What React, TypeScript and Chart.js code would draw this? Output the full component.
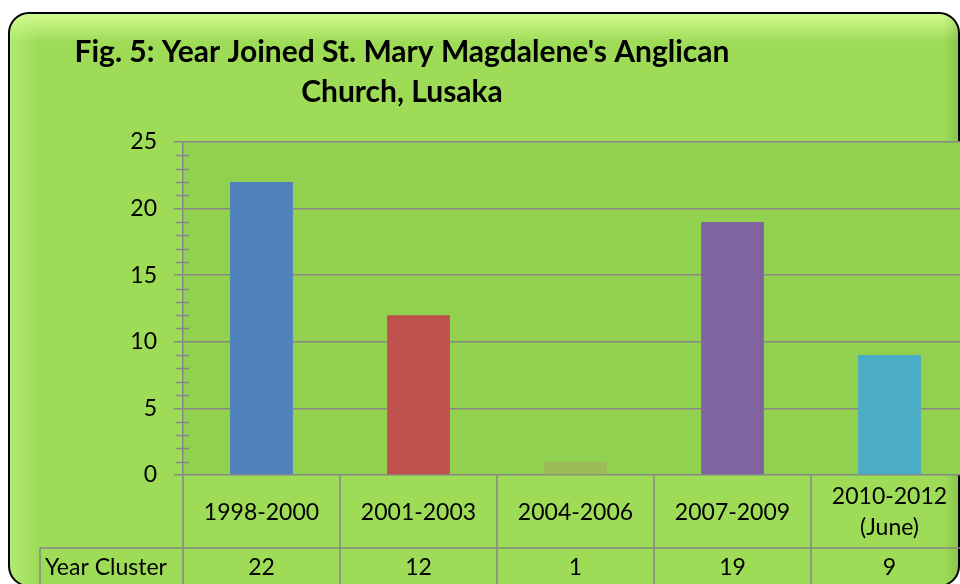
import React, { useEffect, useRef } from 'react';
import { Chart, registerables } from 'chart.js';

Chart.register(...registerables);

const titleLines = ["Fig. 5: Year Joined St. Mary Magdalene's Anglican", 'Church, Lusaka'];
const categories: (string | string[])[] = ['1998-2000', '2001-2003', '2004-2006', '2007-2009', ['2010-2012', '(June)']];
const values = [22, 12, 1, 19, 9];
const barColors = ['#4f81bd', '#c0504d', '#9bbb59', '#8064a2', '#4bacc6'];
const seriesName = 'Year Cluster';
const yMin = 0;
const yMax = 25;
const yStep = 5;
const yMinorStep = 1;

const FONT = 'Lato, "Open Sans", sans-serif';
const GRID = '#878787';
const OUTER = '#9edc58';
const PLOT = '#92d050';

function roundRect(ctx: CanvasRenderingContext2D, x: number, y: number, w: number, h: number, r: number) {
  ctx.beginPath();
  ctx.moveTo(x + r, y);
  ctx.lineTo(x + w - r, y);
  ctx.arcTo(x + w, y, x + w, y + r, r);
  ctx.lineTo(x + w, y + h - r);
  ctx.arcTo(x + w, y + h, x + w - r, y + h, r);
  ctx.lineTo(x + r, y + h);
  ctx.arcTo(x, y + h, x, y + h - r, r);
  ctx.lineTo(x, y + r);
  ctx.arcTo(x, y, x + r, y, r);
  ctx.closePath();
}

const framePlugin = {
  id: 'frame',
  beforeDraw(chart: any) {
    const { ctx, chartArea } = chart;
    const W = 951;
    const H = 574;
    ctx.save();
    roundRect(ctx, 1, 1, W - 1, H - 1, 20);
    ctx.fillStyle = OUTER;
    ctx.fill();
    ctx.save();
    ctx.clip();
    let g = ctx.createLinearGradient(0, 0, 0, 30);
    g.addColorStop(0, 'rgba(215,255,150,0.95)');
    g.addColorStop(1, 'rgba(215,255,150,0)');
    ctx.fillStyle = g;
    ctx.fillRect(0, 0, W, 30);
    g = ctx.createLinearGradient(0, 0, 30, 0);
    g.addColorStop(0, 'rgba(200,250,140,0.5)');
    g.addColorStop(1, 'rgba(200,250,140,0)');
    ctx.fillStyle = g;
    ctx.fillRect(0, 0, 30, H);
    g = ctx.createLinearGradient(W - 16, 0, W, 0);
    g.addColorStop(0, 'rgba(40,90,0,0)');
    g.addColorStop(1, 'rgba(40,90,0,0.18)');
    ctx.fillStyle = g;
    ctx.fillRect(W - 16, 0, 16, H);
    ctx.restore();
    roundRect(ctx, 1, 1, W - 1, H - 1, 20);
    ctx.lineWidth = 2;
    ctx.strokeStyle = '#000';
    ctx.stroke();

    ctx.fillStyle = PLOT;
    ctx.fillRect(chartArea.left, chartArea.top, chartArea.right - chartArea.left, chartArea.bottom - chartArea.top);

    ctx.fillStyle = '#000';
    ctx.font = `bold 30px ${FONT}`;
    ctx.textAlign = 'center';
    ctx.textBaseline = 'alphabetic';
    ctx.fillText(titleLines[0], 394, 50);
    ctx.fillText(titleLines[1], 394, 90);
    ctx.restore();
  },
  afterDraw(chart: any) {
    const { ctx, chartArea, scales } = chart;
    const y = scales.y;
    const x = scales.x;
    ctx.save();
    ctx.strokeStyle = GRID;
    ctx.lineWidth = 1.5;
    // minor ticks
    for (let v = yMin; v <= yMax; v += yMinorStep) {
      if (v % yStep === 0) continue;
      const py = Math.round(y.getPixelForValue(v)) + 0.5;
      ctx.beginPath();
      ctx.moveTo(chartArea.left - 7, py);
      ctx.lineTo(chartArea.left + 6, py);
      ctx.stroke();
    }
    // data table
    const n = chart.data.labels.length;
    const colW = (chartArea.right - chartArea.left) / n;
    const bottom = chart.height;
    const rowY = chartArea.bottom + 73;
    for (let i = 0; i <= n; i++) {
      const px = chartArea.left + i * colW;
      ctx.beginPath();
      ctx.moveTo(px, chartArea.bottom);
      ctx.lineTo(px, bottom);
      ctx.stroke();
    }
    ctx.beginPath();
    ctx.moveTo(32, rowY);
    ctx.lineTo(chartArea.right, rowY);
    ctx.moveTo(32, rowY);
    ctx.lineTo(32, bottom);
    ctx.stroke();

    ctx.fillStyle = '#000';
    ctx.font = `23px ${FONT}`;
    ctx.textBaseline = 'alphabetic';
    ctx.textAlign = 'left';
    ctx.fillText(chart.data.datasets[0].label, 37, rowY + 27);
    ctx.textAlign = 'center';
    const data = chart.data.datasets[0].data;
    for (let i = 0; i < n; i++) {
      ctx.fillText(String(data[i]), x.getPixelForValue(i), rowY + 27);
    }
    ctx.restore();
  },
};

export default function App() {
  const ref = useRef<HTMLCanvasElement | null>(null);
  useEffect(() => {
    if (!ref.current) return;
    const chart = new Chart(ref.current, {
      type: 'bar',
      data: {
        labels: categories as any,
        datasets: [
          {
            label: seriesName,
            data: values,
            backgroundColor: barColors,
            borderWidth: 0,
            categoryPercentage: 1,
            barPercentage: 0.4,
          },
        ],
      },
      options: {
        responsive: false,
        animation: false,
        devicePixelRatio: 1,
        layout: { padding: { top: 130, left: 0, right: 15, bottom: 0 } },
        plugins: { legend: { display: false }, tooltip: { enabled: false }, title: { display: false } },
        scales: {
          x: {
            grid: { display: false },
            border: { display: false },
            ticks: {
              color: '#000',
              font: { family: FONT, size: 23, lineHeight: 1.35 },
              crossAlign: 'center',
              padding: 14,
              maxRotation: 0,
              autoSkip: false,
            },
            afterFit: (s: any) => {
              s.height = 113;
            },
          },
          y: {
            min: yMin,
            max: yMax,
            grid: { color: GRID, lineWidth: 1.5, tickLength: 9 },
            border: { display: true, color: GRID, width: 1.5 },
            ticks: {
              stepSize: yStep,
              color: '#000',
              font: { family: FONT, size: 23 },
              padding: 17,
            },
            afterFit: (s: any) => {
              s.width = 175;
            },
          },
        },
      },
      plugins: [framePlugin],
    });
    return () => chart.destroy();
  }, []);
  return (
    <div style={{ position: 'fixed', left: 0, top: 0, width: 960, height: 584, overflow: 'hidden', background: '#fff' }}>
      <canvas ref={ref} width={975} height={576} style={{ position: 'absolute', left: 8, top: 12, display: 'block' }} />
    </div>
  );
}
